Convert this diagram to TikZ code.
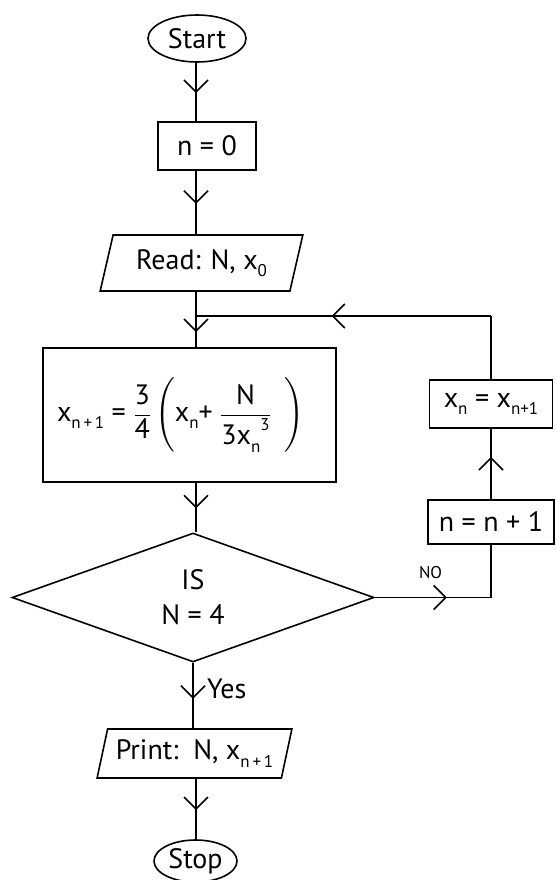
\documentclass[tikz,border=0pt]{standalone}
\usepackage{amsmath}
\usepackage{fontspec}
\setmainfont{PT Sans}
\usetikzlibrary{shapes.geometric,arrows.meta,decorations.markings,calc}
\newcommand{\lowsub}[1]{\raisebox{-0.55ex}{\fontsize{17}{17}\selectfont #1}}
\newcommand{\upsup}[1]{\raisebox{1.0ex}{\fontsize{17}{17}\selectfont #1}}
\tikzset{
    flow box/.style={
        draw,line width=1.6pt,
        inner sep=0pt,
        font=\fontsize{28}{35}\selectfont
    },
    flow io/.style={
        flow box,trapezium,
        trapezium left angle=71,trapezium right angle=109,
        trapezium stretches=true
    },
    flow term/.style={flow box,ellipse},
    flow test/.style={flow box,diamond,align=center},
    mid arrow/.style={
        postaction={decorate},
        decoration={markings,mark=at position #1 with {\arrow{>}}}
    },
    mid arrow/.default=0.52,
    flow line/.style={line width=1.6pt},
    >={Straight Barb[length=12pt,width=24pt]}
}

\begin{document}
\begin{tikzpicture}[x=1pt,y=1pt]
\useasboundingbox (0,0) rectangle (555,-880);
\coordinate (col) at (196,0);
% main column
\node[flow term,minimum width=98,minimum height=47] (start) at (197,-38.5) {Start};
\node[flow box,minimum width=98,minimum height=48] (n0) at (207,-146) {n = 0};
\node[flow io,minimum width=203,minimum height=56] (read) at (201.5,-263) {Read: N, x\lowsub{0}};
\node[flow box,minimum width=293,minimum height=134] (calc) at (189.5,-415)
    {\makebox[265pt][l]{x\lowsub{n\,+\,1} = $\dfrac{\text{3}}{\text{4}}\left(\text{x\lowsub{n}+ }\dfrac{\text{N}}{\text{3x\lowsub{n}\upsup{3}}}\;\;\right)$}};
\node[flow test,minimum width=362,minimum height=129] (test) at (193,-597.5) {IS\\N = 4};
\node[flow io,minimum width=195,minimum height=49] (print) at (194.5,-753.5) {Print:\ \ N, x\lowsub{n\,+\,1}};
\node[flow term,minimum width=83,minimum height=42] (stop) at (195.5,-861) {Stop};
% loop on the right
\node[flow box,minimum width=123,minimum height=48] (swap) at (491,-404) {x\lowsub{n} = x\lowsub{n+1}};
\node[flow box,minimum width=126,minimum height=44] (incr) at (491,-522) {n = n + 1};
\coordinate (join) at (196,-316);
\coordinate (back) at (swap.north |- join);
\coordinate (turn) at (incr.south |- test.east);

\foreach \a/\b in {start/n0,n0/read,calc/test,print/stop}
    \draw[flow line,mid arrow] (\a.south -| col) -- (\b.north -| col);
\draw[flow line] (read.south -| col) -- (join);
\draw[flow line,mid arrow] (join) -- (calc.north -| col);
\draw[flow line,mid arrow=0.55] (test.south) -- (print.north -| test.south)
    node[pos=0.4,right=10pt,font=\fontsize{28}{35}\selectfont] (yes) {Yes};
\draw[flow line,mid arrow=0.62] (test.east) -- (turn)
    node[pos=0.48,above=15pt,font=\fontsize{17}{17}\selectfont] (no) {NO};
\draw[flow line] (turn) -- (incr.south);
\draw[flow line,mid arrow=0.6] (incr.north) -- (swap.south);
\draw[flow line] (swap.north) -- (back);
\draw[flow line,mid arrow=0.54] (back) -- (join);
\end{tikzpicture}
\end{document}
